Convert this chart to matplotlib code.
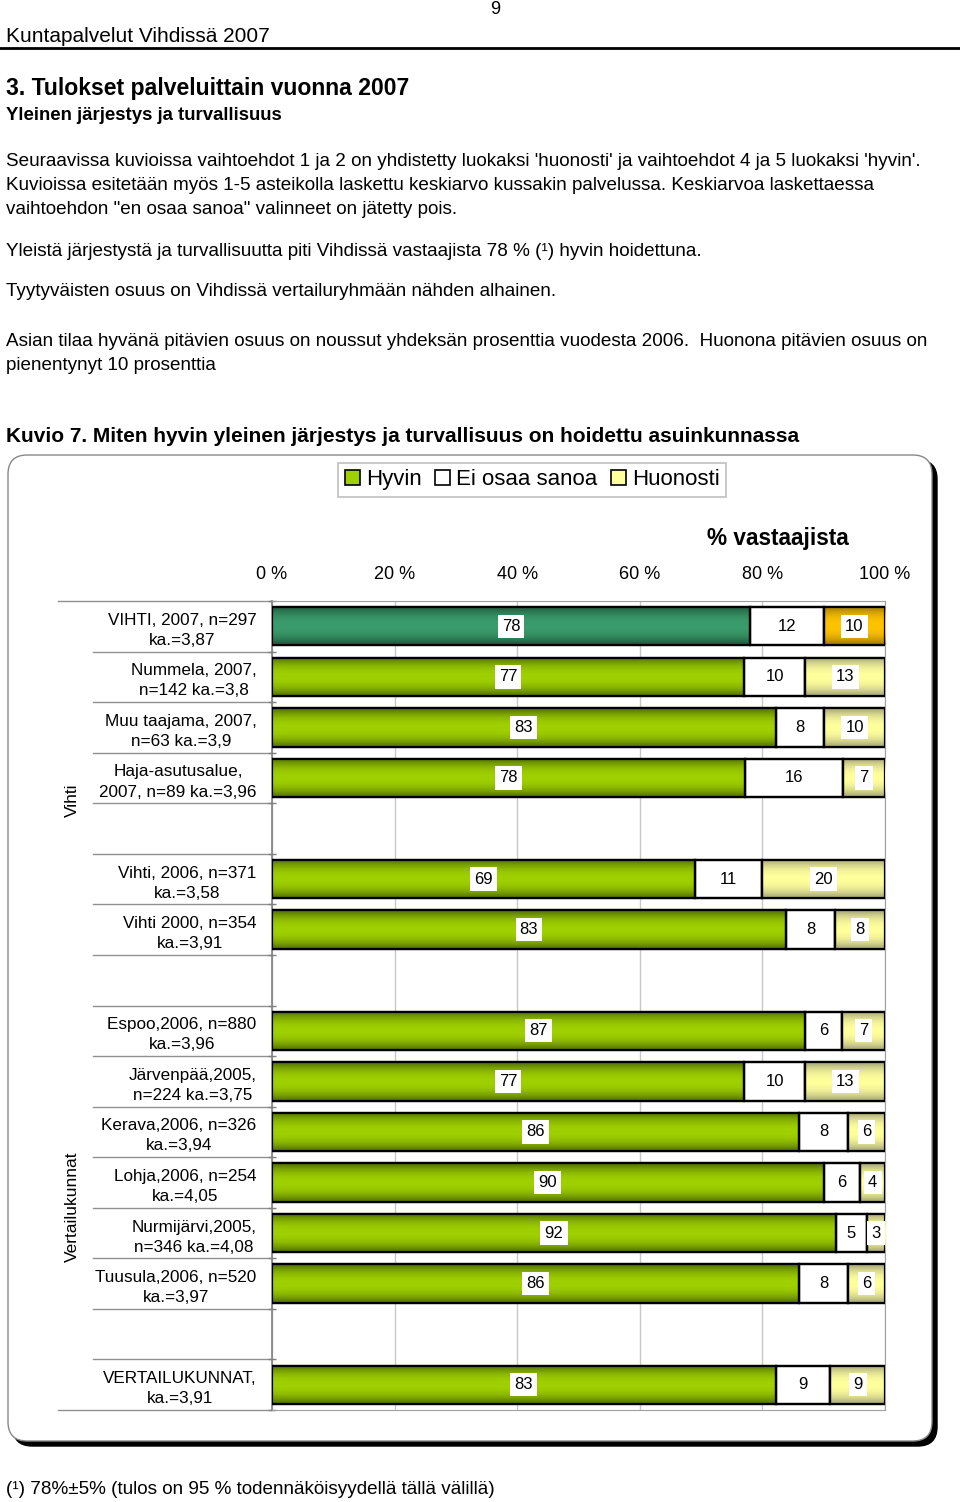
import matplotlib
matplotlib.use("Agg")
import matplotlib.pyplot as plt
import numpy as np
from matplotlib.patches import FancyBboxPatch, Patch
from matplotlib.lines import Line2D
import matplotlib.transforms as mtransforms
from matplotlib.colors import to_rgba

plt.rcParams['font.family'] = ['Liberation Sans', 'DejaVu Sans']

# ---------------- data ----------------
categories = [
    "VIHTI, 2007, n=297\nka.=3,87",
    "Nummela, 2007,\nn=142 ka.=3,8",
    "Muu taajama, 2007,\nn=63 ka.=3,9",
    "Haja-asutusalue,\n2007, n=89 ka.=3,96",
    "Vihti, 2006, n=371\nka.=3,58",
    "Vihti 2000, n=354\nka.=3,91",
    "Espoo,2006, n=880\nka.=3,96",
    "Järvenpää,2005,\nn=224 ka.=3,75",
    "Kerava,2006, n=326\nka.=3,94",
    "Lohja,2006, n=254\nka.=4,05",
    "Nurmijärvi,2005,\nn=346 ka.=4,08",
    "Tuusula,2006, n=520\nka.=3,97",
    "VERTAILUKUNNAT,\nka.=3,91",
]
slots = [0, 1, 2, 3, 5, 6, 8, 9, 10, 11, 12, 13, 15]
hyvin = [78, 77, 83, 78, 69, 83, 87, 77, 86, 90, 92, 86, 83]
eos = [12, 10, 8, 16, 11, 8, 6, 10, 8, 6, 5, 8, 9]
huonosti = [10, 13, 10, 7, 20, 8, 7, 13, 6, 4, 3, 6, 9]
series_names = ["Hyvin", "Ei osaa sanoa", "Huonosti"]
xticks = [0, 20, 40, 60, 80, 100]
xticklabels = ["0 %", "20 %", "40 %", "60 %", "80 %", "100 %"]

# ---------------- figure ----------------
W, H = 960, 1502
fig = plt.figure(figsize=(W / 100, H / 100), dpi=100)
fig.patch.set_facecolor('white')


def fx(x):
    return x / W


def fy(y):
    return 1 - y / H


def ftext(x, y, s, **kw):
    kw.setdefault('va', 'center')
    fig.text(fx(x), fy(y), s, **kw)


# page header
ftext(495, 10, "9", fontsize=13, ha='center')
ftext(6, 37, "Kuntapalvelut Vihdissä 2007", fontsize=15)
fig.add_artist(Line2D([0, 1], [fy(48), fy(48)], color='black', lw=2))
ftext(6, 89, "3. Tulokset palveluittain vuonna 2007", fontsize=16.6, fontweight='bold')
ftext(6, 115, "Yleinen järjestys ja turvallisuus", fontsize=13.4, fontweight='bold')
body = [
    (162, "Seuraavissa kuvioissa vaihtoehdot 1 ja 2 on yhdistetty luokaksi 'huonosti' ja vaihtoehdot 4 ja 5 luokaksi 'hyvin'."),
    (186, "Kuvioissa esitetään myös 1-5 asteikolla laskettu keskiarvo kussakin palvelussa. Keskiarvoa laskettaessa"),
    (210, "vaihtoehdon \"en osaa sanoa\" valinneet on jätetty pois."),
    (252, "Yleistä järjestystä ja turvallisuutta piti Vihdissä vastaajista 78 % (¹) hyvin hoidettuna."),
    (292, "Tyytyväisten osuus on Vihdissä vertailuryhmään nähden alhainen."),
    (341, "Asian tilaa hyvänä pitävien osuus on noussut yhdeksän prosenttia vuodesta 2006.  Huonona pitävien osuus on"),
    (365, "pienentynyt 10 prosenttia"),
]
for y, s in body:
    ftext(6, y, s, fontsize=13.6)
ftext(6, 436, "Kuvio 7. Miten hyvin yleinen järjestys ja turvallisuus on hoidettu asuinkunnassa",
      fontsize=15, fontweight='bold')
ftext(6, 1490, "(¹) 78%±5% (tulos on 95 % todennäköisyydellä tällä välillä)", fontsize=13.6)

# chart frame with shadow
shadow = FancyBboxPatch((fx(13), fy(1446)), fx(924), fy(460) - fy(1446),
                        boxstyle="round,pad=0,rounding_size=0.02",
                        transform=fig.transFigure, facecolor='black', edgecolor='black',
                        mutation_aspect=W / H, zorder=0)
frame = FancyBboxPatch((fx(8), fy(1441)), fx(924), fy(455) - fy(1441),
                       boxstyle="round,pad=0,rounding_size=0.02",
                       transform=fig.transFigure, facecolor='white', edgecolor='#888888',
                       lw=1, mutation_aspect=W / H, zorder=0.1)
fig.add_artist(shadow)
fig.add_artist(frame)

# axes
x0p, x1p, y0p, y1p = 272, 885, 601, 1410
ax = fig.add_axes([fx(x0p), fy(y1p), fx(x1p) - fx(x0p), fy(y0p) - fy(y1p)])
ax.set_facecolor('none')
ax.set_zorder(2)

tot = np.array(hyvin) + np.array(eos) + np.array(huonosti)
p1 = np.array(hyvin) / tot * 100
p2 = np.array(eos) / tot * 100
p3 = np.array(huonosti) / tot * 100
ypos = np.array(slots, dtype=float)
bh = 0.76

lime = ('#4d6a00', '#9fd000')
teal = ('#1c5237', '#3a9c6c')
pale = ('#a0a078', '#ffff9c')
gold = ('#9a7400', '#ffc400')


def grad_colors(i, seg):
    if seg == 0:
        return teal if i == 0 else lime
    if seg == 2:
        return gold if i == 0 else pale
    return None


lefts = [np.zeros_like(p1), p1, p1 + p2]
vals = [p1, p2, p3]
raw = [hyvin, eos, huonosti]
for seg in range(3):
    bars = ax.barh(ypos, vals[seg], left=lefts[seg], height=bh, color='white',
                   edgecolor='black', lw=1.6, zorder=3)
    for i, b in enumerate(bars):
        gc = grad_colors(i, seg)
        if gc is not None:
            c_edge = np.array(to_rgba(gc[0]))
            c_mid = np.array(to_rgba(gc[1]))
            t = np.linspace(-1, 1, 64)
            w = np.clip(np.abs(t) ** 2.2, 0, 1)[:, None]
            arr = c_mid * (1 - w) + c_edge * w
            bb = b.get_bbox()
            im = ax.imshow(arr[:, None, :], extent=(bb.x0, bb.x1, bb.y1, bb.y0),
                           aspect='auto', interpolation='bilinear', zorder=3.1)
            im.set_clip_path(b)
    ax.barh(ypos, vals[seg], left=lefts[seg], height=bh, facecolor='none',
            edgecolor='black', lw=1.6, zorder=3.2)
    for i in range(len(ypos)):
        cx = lefts[seg][i] + vals[seg][i] / 2
        ax.text(cx, ypos[i], str(raw[seg][i]), ha='center', va='center', fontsize=12,
                zorder=5, bbox=dict(facecolor='white', edgecolor='none', pad=3))

ax.set_xlim(0, 100)
ax.set_ylim(15.5, -0.5)
ax.xaxis.tick_top()
ax.set_xticks(xticks)
ax.set_xticklabels(xticklabels, fontsize=13)
ax.tick_params(axis='x', length=0, pad=13)
ax.grid(axis='x', color='#c8c8c8', lw=1, zorder=1)
ax.set_yticks(ypos)
ax.set_yticklabels(categories, fontsize=12.3, multialignment='center', linespacing=1.42)
ax.tick_params(axis='y', which='major', length=0, pad=11)
bounds = [-0.5, 0.5, 1.5, 2.5, 3.5, 4.5, 5.5, 6.5, 7.5, 8.5, 9.5, 10.5, 11.5, 12.5, 13.5, 14.5, 15.5]
ax.set_yticks(bounds, minor=True)
ax.tick_params(axis='y', which='minor', length=6, width=1, color='#808080', direction='inout')
for sp in ['top', 'right', 'bottom']:
    ax.spines[sp].set_color('#a0a0a0')
ax.spines['left'].set_color('#808080')
ax.spines['left'].set_linewidth(1.2)

# category separator lines on left
bt = mtransforms.blended_transform_factory(fig.transFigure, ax.transData)
for b in bounds:
    xs = 58 if b in (-0.5, 15.5) else 93
    fig.add_artist(Line2D([fx(xs), fx(x0p)], [b, b], transform=bt, color='#909090', lw=1))

ftext(72, 800, "Vihti", rotation=90, ha='center', fontsize=12.5)
ftext(72, 1207, "Vertailukunnat", rotation=90, ha='center', fontsize=12.5)
ftext(778, 539, "% vastaajista", ha='center', fontsize=16.3, fontweight='bold')

# legend
handles = [Patch(facecolor=lime[1], edgecolor='black', lw=1.2),
           Patch(facecolor='white', edgecolor='black', lw=1.2),
           Patch(facecolor=pale[1], edgecolor='black', lw=1.2)]
leg = fig.legend(handles, series_names, loc='center', bbox_to_anchor=(fx(532), fy(480)),
                 ncol=3, fontsize=16, frameon=True, fancybox=False, handlelength=0.7,
                 handleheight=0.7, handletextpad=0.25, columnspacing=0.6,
                 borderpad=0.3, edgecolor='#b0b0b0')
leg.get_frame().set_linewidth(1.2)

fig.savefig("out.png", dpi=100, facecolor='white')
